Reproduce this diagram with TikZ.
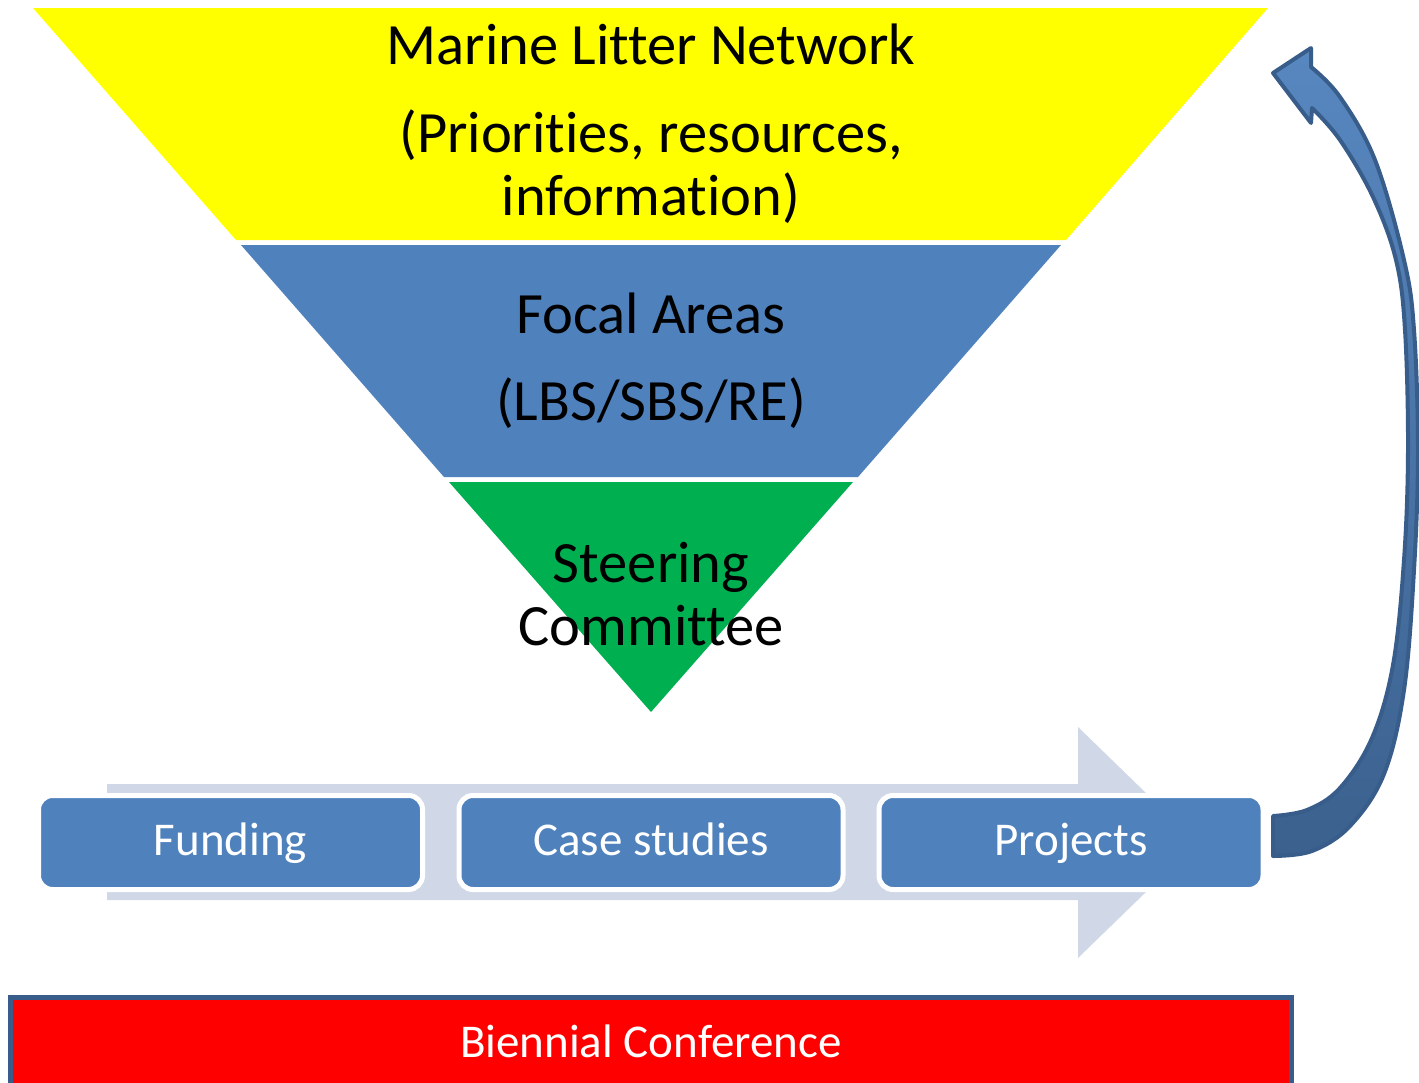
\documentclass[tikz,border=0pt]{standalone}
\usepackage{fontspec}
\setmainfont[Ligatures={NoCommon,NoContextual}, RawFeature={-liga;-clig;-dlig;-calt}]{Carlito}
\definecolor{ylw}{HTML}{FFFF00}
\definecolor{blu}{HTML}{4F81BD}
\definecolor{grn}{HTML}{00B050}
\definecolor{lightarr}{HTML}{D0D8E8}
\definecolor{dkblu}{HTML}{385D8A}
\definecolor{redc}{HTML}{FF0000}
\begin{document}
\begin{tikzpicture}[x=1pt,y=-1pt,
  bigtext/.style={font=\fontsize{58.5}{70}\selectfont, text=black, inner sep=0pt, anchor=base},
  stagebox/.style={draw=white, line width=5pt, fill=blu, rounded corners=14pt,
    minimum width=384pt, minimum height=94pt, inner sep=0pt,
    text height=35pt, text depth=10pt,
    font=\fontsize{47}{56}\selectfont, text=white},
  confbar/.style={draw=dkblu, line width=5pt, fill=redc},
  curvarrow/.style={draw=dkblu, line width=4pt, line join=round, top color=blu!95!white, bottom color=blu!75!black}
]
\useasboundingbox (0,0) rectangle (1419,1082);
% funnel layers
\fill[ylw] (33,8) -- (1268,8) -- (1066,240) -- (236,240) -- cycle;
\fill[blu] (241,245) -- (1061,245) -- (858,477) -- (444,477) -- cycle;
\fill[grn] (449,482) -- (853,482) -- (651,712) -- cycle;
% funnel texts
\node[bigtext] (mln) at (651,64) {Marine Litter Network};
\node[bigtext] (pri) at (651,152) {(Priorities, resources,};
\node[bigtext] (inf) at (651,215) {information)};
\node[bigtext] (foc) at (651,333) {Focal Areas};
\node[bigtext] (lbs) at (651,420) {(LBS/SBS/RE)};
\node[bigtext] (ste) at (651,582) {Steering};
\node[bigtext] (com) at (651,645) {Committee};
% background process arrow
\fill[lightarr] (107,784) -- (1078,784) -- (1078,727) -- (1197,842.5) -- (1078,958) -- (1078,900) -- (107,900) -- cycle;
% stage boxes
\node[stagebox] (fund) at (230.5,842.5) {Funding};
\node[stagebox] (case) at (651,842.5) {Case studies};
\node[stagebox] (proj) at (1071,842.5) {Projects};
% curved return arrow
\draw[curvarrow] plot[smooth, tension=0.6] coordinates {(1273,856) (1312,851) (1350,826) (1384,774) (1404,690) (1414,570) (1418,450) (1414,330) (1404,260) (1375,160) (1340,97) (1311,67)}
  -- (1311,48) -- (1273,73) -- (1311,123)
  -- plot[smooth, tension=0.6] coordinates {(1312,108) (1340,140) (1373,197) (1396,260) (1405,330) (1408,450) (1404,560) (1393,665) (1372,738) (1340,788) (1307,810) (1273,816)} -- cycle;
% conference bar
\draw[confbar] (10.5,997.5) rectangle (1291.5,1120);
\node[font=\fontsize{47}{56}\selectfont, text=white, inner sep=0pt, anchor=base] (conf) at (651,1057) {Biennial Conference};
\end{tikzpicture}
\end{document}
